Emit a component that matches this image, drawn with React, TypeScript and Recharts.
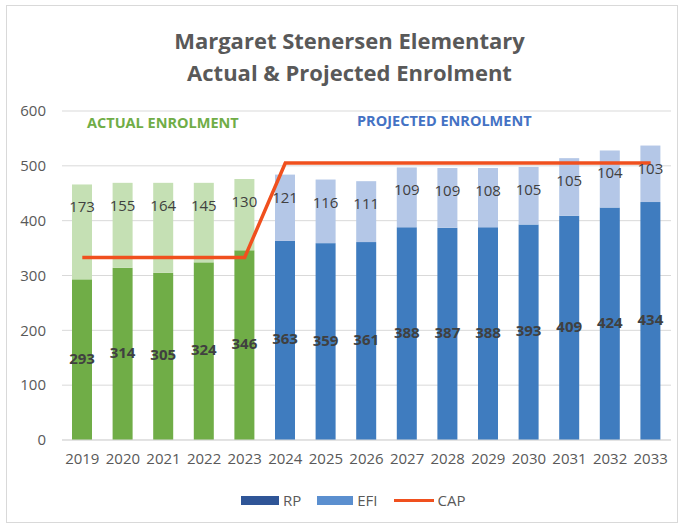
import {
  ComposedChart,
  Bar,
  Line,
  XAxis,
  YAxis,
  CartesianGrid,
  LabelList,
} from "recharts";

const years = ["2019", "2020", "2021", "2022", "2023", "2024", "2025", "2026", "2027", "2028", "2029", "2030", "2031", "2032", "2033"];
const rp = [293, 314, 305, 324, 346, 363, 359, 361, 388, 387, 388, 393, 409, 424, 434];
const efi = [173, 155, 164, 145, 130, 121, 116, 111, 109, 109, 108, 105, 105, 104, 103];
const cap = [333, 333, 333, 333, 333, 505, 505, 505, 505, 505, 505, 505, 505, 505, 505];
const actualYears = ["2019", "2020", "2021", "2022", "2023"];

const data = years.map((y, i) => ({ year: y, RP: rp[i], EFI: efi[i], CAP: cap[i] }));

const FONT = "'Open Sans', 'DejaVu Sans', sans-serif";
const GRAY = "#595959";

const isActual = (y: string) => actualYears.includes(y);

// colour each segment by period (actual = green, projected = blue)
const makeShape = (actualFill: string, projFill: string) => (props: any) => {
  const { x, y, width, height, payload } = props;
  return (
    <rect x={x} y={y} width={width} height={height}
      fill={payload && isActual(payload.year) ? actualFill : projFill} />
  );
};

const TopLabel = (props: any) => {
  const { x, y, width, value } = props;
  return (
    <text x={Number(x) + Number(width) / 2} y={Number(y) + 24} textAnchor="middle" dominantBaseline="middle"
      fontSize={15} fill="#404040" fontFamily={FONT}>
      {value}
    </text>
  );
};

const MidLabel = (props: any) => {
  const { x, y, width, height, value } = props;
  return (
    <text x={Number(x) + Number(width) / 2} y={Number(y) + Number(height) / 2} textAnchor="middle" dominantBaseline="middle"
      fontSize={15} fontWeight="bold" fill="#404040" fontFamily={FONT}>
      {value}
    </text>
  );
};

export default function App() {
  return (
    <div style={{ position: "absolute", left: 0, top: 0, width: 683, height: 524, background: "#fff", fontFamily: FONT }}>
      <div style={{ position: "absolute", left: 6, top: 5, width: 670, height: 516, border: "1px solid #d9d9d9" }} />
      <div style={{ position: "absolute", left: 0, top: 24, width: 683, textAlign: "center", color: GRAY, fontWeight: "bold", fontSize: 22, lineHeight: "32px", paddingLeft: 16, boxSizing: "border-box" }}>
        <div>Margaret Stenersen Elementary</div>
        <div>Actual &amp; Projected Enrolment</div>
      </div>
      <div style={{ position: "absolute", left: 0, top: 0 }}>
        <ComposedChart
          width={683}
          height={524}
          data={data}
          margin={{ top: 111, right: 12, bottom: 54, left: 12 }}
        >
          <CartesianGrid vertical={false} stroke="#d9d9d9" />
          <XAxis dataKey="year" tickLine={false} axisLine={{ stroke: "#d9d9d9" }}
            tick={{ fontSize: 15, fill: GRAY, fontFamily: FONT }} tickMargin={7} interval={0} />
          <YAxis width={50} domain={[0, 600]} tickCount={7} tickLine={false} axisLine={false}
            tick={{ fontSize: 15, fill: GRAY, fontFamily: FONT }} tickMargin={10} />
          <Bar dataKey="RP" stackId="a" barSize={20} fill="#3f7cbf" isAnimationActive={false}
            shape={makeShape("#70ad47", "#3f7cbf")}>
            <LabelList dataKey="RP" content={MidLabel} />
          </Bar>
          <Bar dataKey="EFI" stackId="a" barSize={20} fill="#b4c7e7" isAnimationActive={false}
            shape={makeShape("#c5e0b4", "#b4c7e7")}>
            <LabelList dataKey="EFI" content={TopLabel} />
          </Bar>
          <Line dataKey="CAP" type="linear" stroke="#f0501e" strokeWidth={3.5} dot={false} isAnimationActive={false} />
        </ComposedChart>
      </div>
      <div style={{ position: "absolute", left: 87, top: 113, fontSize: 14.5, fontWeight: "bold", color: "#70ad47" }}>ACTUAL ENROLMENT</div>
      <div style={{ position: "absolute", left: 357, top: 111, fontSize: 14.5, fontWeight: "bold", color: "#4472c4" }}>PROJECTED ENROLMENT</div>
      <div style={{ position: "absolute", top: 490, left: 241, display: "flex", alignItems: "center", fontSize: 15, color: GRAY }}>
        <span style={{ display: "inline-block", width: 38, height: 9, background: "#2f5597", marginRight: 4 }} />
        <span style={{ marginRight: 16 }}>RP</span>
        <span style={{ display: "inline-block", width: 36, height: 9, background: "#5b8fcf", marginRight: 4 }} />
        <span style={{ marginRight: 16 }}>EFI</span>
        <span style={{ display: "inline-block", width: 40, height: 3, background: "#f0501e", marginRight: 4 }} />
        <span>CAP</span>
      </div>
    </div>
  );
}
